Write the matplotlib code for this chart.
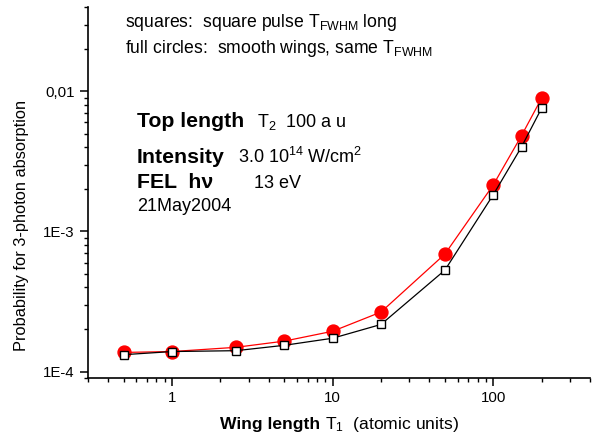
import matplotlib
matplotlib.use('Agg')
import matplotlib.pyplot as plt
from matplotlib.ticker import LogLocator, NullFormatter, FixedLocator, FixedFormatter

plt.rcParams['font.family'] = ['Liberation Sans', 'DejaVu Sans']
plt.rcParams['mathtext.fontset'] = 'custom'
plt.rcParams['mathtext.rm'] = 'Liberation Sans'
plt.rcParams['mathtext.it'] = 'Liberation Sans'
plt.rcParams['mathtext.bf'] = 'Liberation Sans:bold'

# wing length T1 (atomic units)
wing = [0.5, 1, 2.5, 5, 10, 20, 50, 100, 150, 200]
# full circles: smooth wings
circles = [1.37e-4, 1.39e-4, 1.49e-4, 1.65e-4, 1.94e-4, 2.66e-4, 6.9e-4, 2.15e-3, 4.84e-3, 8.95e-3]
# squares: square pulse
squares = [1.32e-4, 1.39e-4, 1.41e-4, 1.54e-4, 1.73e-4, 2.17e-4, 5.3e-4, 1.83e-3, 4.02e-3, 7.59e-3]

ytick_vals = [1e-4, 1e-3, 1e-2]
ytick_labels = ['1E-4', '1E-3', '0,01']
xtick_vals = [1, 10, 100]
xtick_labels = ['1', '10', '100']

W, H = 600, 438
fig = plt.figure(figsize=(6, 4.38), dpi=100)
ax = fig.add_axes([88 / W, 1 - 378 / H, (590 - 88) / W, (378 - 7) / H])

ax.plot(wing, circles, color='red', lw=0.9, marker='o', ms=9.3,
        mfc='red', mec='red', zorder=3)
ax.plot(wing, squares, color='black', lw=0.9, marker='s', ms=6.3,
        mfc='white', mec='black', mew=1.0, zorder=4)

ax.set_xscale('log')
ax.set_yscale('log')
ax.set_xlim(0.3, 400)
ax.set_ylim(9e-5, 0.04)

ax.spines['top'].set_visible(False)
ax.spines['right'].set_visible(False)
for s in ['left', 'bottom']:
    ax.spines[s].set_linewidth(1.2)

ax.xaxis.set_major_locator(FixedLocator(xtick_vals))
ax.xaxis.set_major_formatter(FixedFormatter(xtick_labels))
ax.xaxis.set_minor_locator(LogLocator(base=10, subs=range(2, 10)))
ax.xaxis.set_minor_formatter(NullFormatter())
ax.yaxis.set_major_locator(FixedLocator(ytick_vals))
ax.yaxis.set_major_formatter(FixedFormatter(ytick_labels))
ax.yaxis.set_minor_locator(LogLocator(base=10, subs=range(2, 10)))
ax.yaxis.set_minor_formatter(NullFormatter())
ax.tick_params(which='major', direction='out', length=5.5, width=1.1, labelsize=10.8, pad=4)
ax.tick_params(which='minor', direction='out', length=3, width=1.0)


def ftext(x, y, s, **kw):
    kw.setdefault('va', 'baseline')
    kw.setdefault('ha', 'left')
    fig.text(x / W, 1 - y / H, s, **kw)


ftext(22, 225, 'Probability for 3-photon absorption', fontsize=11.8,
      rotation=90, va='center', ha='center')
ftext(220, 429, 'Wing length', fontsize=12.6, fontweight='bold')
ftext(325, 429, r'T$_1$  (atomic units)', fontsize=12.6)

ftext(125, 27, r'squares:  square pulse T$_{\rm FWHM}$ long', fontsize=12.7)
ftext(125, 53, r'full circles:  smooth wings, same T$_{\rm FWHM}$', fontsize=12.7)

ftext(137, 127, 'Top length', fontsize=15.3, fontweight='bold')
ftext(257, 127, r'T$_2$  100 a u', fontsize=13)
ftext(137, 163, 'Intensity', fontsize=15.3, fontweight='bold')
ftext(238, 163, r'3.0 10$^{14}$ W/cm$^2$', fontsize=13)
ftext(137, 188, 'FEL  h\u03bd', fontsize=15.3, fontweight='bold')
ftext(254, 188, '13 eV', fontsize=13)
ftext(137, 211, '21May2004', fontsize=13)

fig.savefig('out.png', dpi=100)
